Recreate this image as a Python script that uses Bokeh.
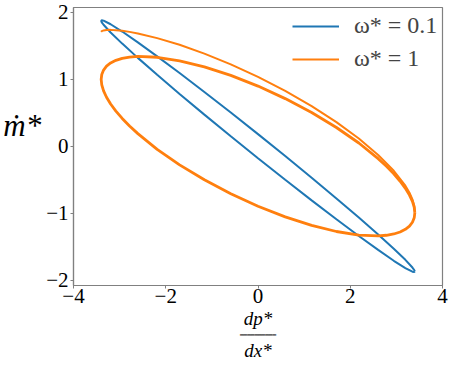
from bokeh.plotting import figure
from bokeh.models import FixedTicker, Range1d, Legend, LegendItem, Title
from bokeh.embed import file_html
from bokeh.resources import INLINE

# omega* = 0.1 (closed loop)
blue_x = [3.400, 3.387, 3.348, 3.195, 2.944, 2.605, 2.186, 1.700, 1.163, 0.590, 0.000,
          -0.590, -1.163, -1.700, -2.186, -2.605, -2.944, -3.195, -3.348, -3.387, -3.400,
          -3.387, -3.348, -3.195, -2.944, -2.605, -2.186, -1.700, -1.163, -0.590, 0.000,
          0.590, 1.163, 1.700, 2.186, 2.605, 2.944, 3.195, 3.348, 3.387, 3.400]
blue_y = [-1.871, -1.849, -1.812, -1.697, -1.531, -1.318, -1.065, -0.780, -0.471, -0.148, 0.180,
          0.502, 0.809, 1.092, 1.341, 1.549, 1.711, 1.820, 1.874, 1.880, 1.871,
          1.849, 1.812, 1.697, 1.531, 1.318, 1.065, 0.780, 0.471, 0.148, -0.180,
          -0.502, -0.809, -1.092, -1.341, -1.549, -1.711, -1.820, -1.874, -1.880, -1.871]

# omega* = 1, first (transient) half cycle
orange_tr_x = [-3.400, -3.387, -3.348, -3.284, -3.195, -3.081, -2.944, -2.785, -2.605, -2.186,
               -1.700, -1.163, -0.590, 0.000, 0.590, 1.163, 1.700, 2.186, 2.605, 2.944,
               3.195, 3.284, 3.348, 3.387, 3.400]
orange_tr_y = [1.706, 1.718, 1.728, 1.735, 1.736, 1.732, 1.723, 1.706, 1.682, 1.613,
               1.513, 1.382, 1.222, 1.035, 0.825, 0.598, 0.359, 0.114, -0.131, -0.368,
               -0.590, -0.695, -0.793, -0.885, -0.969]

# omega* = 1, settled loop
orange_x = [3.400, 3.387, 3.348, 3.284, 3.195, 3.081, 2.944, 2.785, 2.605, 2.186, 1.700,
            1.163, 0.590, 0.000, -0.590, -1.163, -1.700, -2.186, -2.605, -2.785, -2.944,
            -3.081, -3.195, -3.284, -3.348, -3.387, -3.400, -3.387, -3.348, -3.284, -3.195,
            -3.081, -2.944, -2.785, -2.605, -2.186, -1.700, -1.163, -0.590, 0.000, 0.590,
            1.163, 1.700, 2.186, 2.605, 2.785, 2.944, 3.081, 3.195, 3.284, 3.348, 3.387, 3.400]
orange_y = [-0.996, -1.070, -1.136, -1.194, -1.242, -1.281, -1.311, -1.330, -1.339, -1.327, -1.274,
            -1.183, -1.056, -0.897, -0.710, -0.502, -0.279, -0.047, 0.187, 0.301, 0.414,
            0.524, 0.629, 0.730, 0.825, 0.914, 0.996, 1.070, 1.136, 1.194, 1.242,
            1.281, 1.311, 1.330, 1.339, 1.327, 1.274, 1.183, 1.056, 0.897, 0.710,
            0.502, 0.279, 0.047, -0.187, -0.301, -0.414, -0.524, -0.629, -0.730, -0.825, -0.914, -0.996]

x_ticks = [-4, -2, 0, 2, 4]
x_tick_labels = ["\u22124", "\u22122", "0", "2", "4"]
y_ticks = [-2, -1, 0, 1, 2]
y_tick_labels = ["\u22122", "\u22121", "0", "1", "2"]
series_labels = ["\u03c9* = 0.1", "\u03c9* = 1"]
y_label = "\u1e41*"
x_label_num = "dp*"
x_label_den = "dx*"

BLUE = "#1f77b4"
ORANGE = "#ff7f0e"
FONT = "Liberation Serif"
GRAY = "#808080"

p = figure(width=449, height=360, output_backend="svg", toolbar_location=None,
           x_range=Range1d(-4, 4), y_range=Range1d(-2.08, 2.07),
           min_border_left=67, min_border_right=7, min_border_top=7, min_border_bottom=10)
p.grid.visible = False
p.background_fill_color = "white"
p.border_fill_color = "white"
p.outline_line_color = GRAY
p.outline_line_width = 1.2

for ax, ticks, labs in ((p.xaxis[0], x_ticks, x_tick_labels), (p.yaxis[0], y_ticks, y_tick_labels)):
    ax.ticker = FixedTicker(ticks=ticks)
    ax.major_label_overrides = {t: l for t, l in zip(ticks, labs)}
    ax.axis_line_color = GRAY
    ax.axis_line_width = 1.2
    ax.major_tick_line_color = GRAY
    ax.major_tick_out = 3
    ax.major_tick_in = 0
    ax.minor_tick_line_color = None
    ax.major_label_text_font = FONT
    ax.major_label_text_font_size = "21px"
    ax.major_label_text_color = "black"
    ax.major_label_standoff = 2
p.xaxis[0].major_label_standoff = 0

yax = p.yaxis[0]
yax.axis_label = y_label + "\n "
yax.axis_label_text_font = FONT
yax.axis_label_text_font_style = "italic"
yax.axis_label_text_font_size = "31px"
yax.axis_label_text_color = "black"
yax.axis_label_standoff = 2
try:
    yax.axis_label_orientation = "horizontal"
except Exception:
    pass

rb = p.line(blue_x, blue_y, line_color=BLUE, line_width=2)
ro1 = p.line(orange_tr_x, orange_tr_y, line_color=ORANGE, line_width=2)
ro2 = p.line(orange_x, orange_y, line_color=ORANGE, line_width=2.8)

legend = Legend(items=[LegendItem(label=series_labels[0], renderers=[rb]),
                       LegendItem(label=series_labels[1], renderers=[ro1])],
                location=(219, 213), border_line_color=None, background_fill_alpha=0,
                label_text_font=FONT, label_text_font_size="24px",
                glyph_width=47, glyph_height=26, label_height=26, label_standoff=15, spacing=6,
                margin=0, padding=0)
p.add_layout(legend)

# x label as a stacked fraction
t_num = Title(text=x_label_num, align="center", text_font=FONT, text_font_style="italic",
              text_font_size="19px", text_color="black", standoff=0, offset=0)
t_bar = Title(text="\u2501" * 10, align="center",
              text_font="DejaVu Sans Mono", text_font_style="normal",
              text_font_size="6px", text_color="black", standoff=0, offset=0)
t_den = Title(text=x_label_den, align="center", text_font=FONT, text_font_style="italic",
              text_font_size="19px", text_color="black", standoff=0, offset=0)
p.add_layout(t_num, "below")
p.add_layout(t_bar, "below")
p.add_layout(t_den, "below")

open("out.html", "w").write(file_html(p, INLINE))
